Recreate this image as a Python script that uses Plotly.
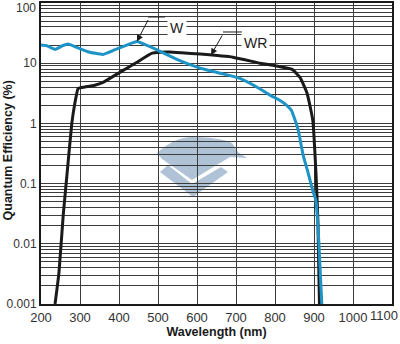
import plotly.graph_objects as go
import math

# Quantum efficiency vs wavelength for two sensor variants
w_nm = [200, 215, 236, 255, 269, 290, 320, 359, 390, 420, 446, 470, 492, 550,
        608, 660, 710, 760, 787, 813, 830, 842, 859, 872, 885, 897, 905, 912, 920]
w_qe = [20, 19.5, 17, 19.5, 20.8, 18.5, 15.5, 14, 16.8, 20, 23, 20, 17.3, 11.5,
        8.3, 6.8, 5.6, 3.8, 2.95, 2.4, 2.0, 1.65, 0.8, 0.3, 0.15, 0.076, 0.052, 0.012, 0.001]

wr_nm = [236, 246, 257, 267, 279, 287, 295, 300, 338, 359, 403, 446, 485, 505, 530,
         560, 608, 692, 762, 800, 844, 864, 882, 897, 905, 910, 914]
wr_qe = [0.001, 0.0033, 0.03, 0.15, 1.0, 2.2, 3.8, 3.9, 4.3, 4.8, 7.1, 10.4, 14.7, 15.2, 15.3,
         14.9, 14.2, 12.6, 10.0, 9.1, 7.9, 5.8, 3.2, 1.12, 0.15, 0.024, 0.001]

x_ticks = [200, 300, 400, 500, 600, 700, 800, 900, 1000, 1100]
y_ticks = [0.001, 0.01, 0.1, 1, 10, 100]
y_ticktext = ["0.001", "0.01", "0.1", "1", "10", "100"]

# arrow targets for the curve labels
w_peak_nm, w_peak_qe = 446, 23
wr_mark_nm, wr_mark_qe = 636, 13.7

FONT = "Liberation Sans, Arial, sans-serif"
GRID = "#3c3c3c"
BLUE = "#1e93c6"
INK = "#1a1a1a"

fig = go.Figure()
fig.add_trace(go.Scatter(x=wr_nm, y=wr_qe, mode="lines", name="WR",
                         line=dict(color=INK, width=3, shape="spline", smoothing=0.4)))
fig.add_trace(go.Scatter(x=w_nm, y=w_qe, mode="lines", name="W",
                         line=dict(color=BLUE, width=3, shape="spline", smoothing=0.4)))

# faint logo mark behind the data
logo_color = "rgba(150,175,200,0.75)"
fig.add_shape(type="path", xref="paper", yref="paper", layer="below",
              path=("M 0.3305 0.5017 Q 0.3818 0.5560 0.4330 0.5548 "
                    "Q 0.5100 0.5530 0.5442 0.5349 L 0.5613 0.5050 L 0.5869 0.4850 "
                    "L 0.5385 0.4884 L 0.4302 0.4120 L 0.3447 0.4817 Z"),
              fillcolor=logo_color, line=dict(width=0))
fig.add_shape(type="path", xref="paper", yref="paper", layer="below",
              path=("M 0.3390 0.4385 L 0.3618 0.4618 L 0.4302 0.3987 L 0.5128 0.4551 "
                    "L 0.5328 0.4385 L 0.4330 0.3555 Z"),
              fillcolor=logo_color, line=dict(width=0))

# leader lines for the labels
fig.add_shape(type="line", xref="paper", yref="paper",
              x0=0.3048, x1=0.3533, y0=0.9535, y1=0.9535, line=dict(color=INK, width=1))
fig.add_shape(type="line", xref="paper", yref="paper",
              x0=0.5185, x1=0.5726, y0=0.9037, y1=0.9037, line=dict(color=INK, width=1))

fig.add_annotation(x=w_peak_nm, y=math.log10(w_peak_qe), xref="x", yref="y",
                   text="", showarrow=True, ax=12, ay=-23, arrowhead=2,
                   arrowsize=1.3, arrowwidth=1, arrowcolor=INK)
fig.add_annotation(x=wr_mark_nm, y=math.log10(wr_mark_qe), xref="x", yref="y",
                   text="", showarrow=True, ax=12, ay=-21, arrowhead=2,
                   arrowsize=1.3, arrowwidth=1, arrowcolor=INK)
fig.add_annotation(x=0.387, y=0.9535, xref="paper", yref="paper", text="W",
                   showarrow=False, bgcolor="white", borderpad=2,
                   font=dict(family=FONT, size=14, color=INK))
fig.add_annotation(x=0.612, y=0.9037, xref="paper", yref="paper", text="WR",
                   showarrow=False, bgcolor="white", borderpad=2,
                   font=dict(family=FONT, size=14, color=INK))

# last x tick label kept inside the canvas
fig.add_annotation(x=1, y=0, xref="paper", yref="paper", text=str(x_ticks[-1]),
                   showarrow=False, xanchor="right", yanchor="top", xshift=8, yshift=-2,
                   font=dict(family=FONT, size=13, color="#333"))

# top y tick label, kept inside the canvas at the upper edge of the frame
fig.add_annotation(x=0, y=1, xref="paper", yref="paper", text=y_ticktext[-1],
                   showarrow=False, xanchor="right", yanchor="top", xshift=-4, yshift=3,
                   borderpad=0, font=dict(family=FONT, size=12, color="#333"))

# vertical axis title
fig.add_annotation(x=-0.0912, y=0.51, xref="paper", yref="paper",
                   text="<b>Quantum Efficiency (%)</b>", textangle=-90, showarrow=False,
                   xanchor="center", yanchor="middle",
                   font=dict(family=FONT, size=12.5, color=INK))

fig.update_layout(
    width=400, height=344,
    margin=dict(l=41, r=8, t=3, b=40),
    paper_bgcolor="white", plot_bgcolor="white",
    showlegend=False,
    font=dict(family=FONT, size=13, color="#333"),
    xaxis=dict(range=[200, 1100], tickvals=x_ticks[:-1], ticks="",
               showgrid=True, gridcolor=GRID, gridwidth=1,
               showline=True, linecolor=INK, linewidth=2, mirror=True,
               zeroline=False, automargin=False,
               title=dict(text="<b>Wavelength (nm)</b>", standoff=3,
                          font=dict(family=FONT, size=12.5, color=INK))),
    yaxis=dict(type="log", range=[-3, 2], tickvals=y_ticks[:-1], ticktext=y_ticktext[:-1],
               ticks="", showgrid=True, gridcolor=GRID, gridwidth=1.2,
               tickfont=dict(size=12),
               minor=dict(dtick="D1", showgrid=True, gridcolor=GRID, gridwidth=1),
               showline=True, linecolor=INK, linewidth=2, mirror=True,
               zeroline=False, automargin=False),
)

fig.write_html("out.html")
